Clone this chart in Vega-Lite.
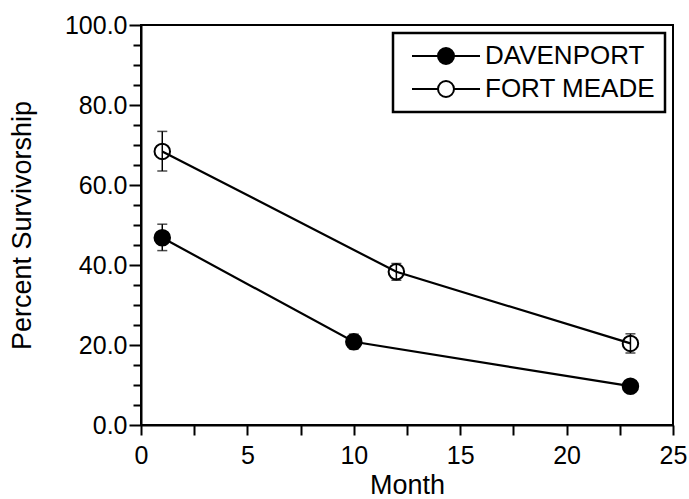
{
  "$schema": "https://vega.github.io/schema/vega-lite/v6.json",
  "width": 532,
  "height": 400,
  "autosize": "none",
  "padding": {"left": 141, "top": 25, "right": 16, "bottom": 74},
  "background": "white",
  "config": {
    "font": "Liberation Sans",
    "view": {"stroke": "black", "strokeWidth": 2},
    "axis": {
      "grid": false,
      "domainColor": "black",
      "domainWidth": 2,
      "tickColor": "black",
      "tickWidth": 2,
      "labelColor": "black",
      "labelFont": "Liberation Sans",
      "labelFontSize": 25,
      "labelFlush": false,
      "labelOverlap": false,
      "titleColor": "black",
      "titleFont": "Liberation Sans",
      "titleFontSize": 27,
      "titleFontWeight": "normal"
    },
    "legend": {
      "strokeColor": "black",
      "strokeWidth": 2.5,
      "fillColor": "white",
      "padding": 10,
      "cornerRadius": 0,
      "labelFont": "Liberation Sans",
      "labelFontSize": 26,
      "labelColor": "black",
      "labelLimit": 0,
      "symbolType": "M -4.25 0 L -1 0 M 1 0 L 4.25 0 M 1 0 A 1 1 0 1 1 -1 0 A 1 1 0 1 1 1 0 Z",
      "symbolSize": 256,
      "symbolStrokeColor": "black",
      "symbolStrokeWidth": 2,
      "symbolOffset": 30,
      "labelOffset": 26,
      "rowPadding": 7
    }
  },
  "data": {
    "values": [
      {"series": "DAVENPORT", "month": 1, "pct": 46.8, "lo": 43.6, "hi": 50.2},
      {"series": "DAVENPORT", "month": 10, "pct": 20.8, "lo": 19.0, "hi": 22.7},
      {"series": "DAVENPORT", "month": 23, "pct": 9.7, "lo": 8.9, "hi": 10.6},
      {"series": "FORT MEADE", "month": 1, "pct": 68.4, "lo": 63.5, "hi": 73.4},
      {"series": "FORT MEADE", "month": 12, "pct": 38.3, "lo": 36.2, "hi": 40.4},
      {"series": "FORT MEADE", "month": 23, "pct": 20.4, "lo": 18.0, "hi": 22.8}
    ]
  },
  "encoding": {
    "x": {
      "field": "month",
      "type": "quantitative",
      "scale": {"domain": [0, 25], "nice": false},
      "axis": {
        "title": "Month",
        "values": [0, 2.5, 5, 7.5, 10, 12.5, 15, 17.5, 20, 22.5, 25],
        "labelExpr": "datum.value % 5 === 0 ? datum.label : ''",
        "tickSize": 10,
        "labelPadding": 8,
        "titlePadding": 4
      }
    },
    "y": {
      "field": "pct",
      "type": "quantitative",
      "scale": {"domain": [0, 100], "nice": false},
      "axis": {
        "title": "Percent Survivorship",
        "values": [0, 5, 10, 15, 20, 25, 30, 35, 40, 45, 50, 55, 60, 65, 70, 75, 80, 85, 90, 95, 100],
        "labelExpr": "datum.value % 20 === 0 ? format(datum.value, '.1f') : ''",
        "tickSize": {"condition": {"test": "datum.value % 20 === 0", "value": 12}, "value": 8},
        "labelPadding": 2,
        "titlePadding": 28
      }
    }
  },
  "layer": [
    {
      "mark": {"type": "line", "color": "black", "strokeWidth": 2.2},
      "encoding": {"detail": {"field": "series"}}
    },
    {
      "mark": {
        "type": "errorbar",
        "ticks": {"size": 10, "thickness": 1.5, "color": "black"},
        "rule": {"strokeWidth": 1.5, "color": "black"}
      },
      "encoding": {
        "y": {"field": "lo", "type": "quantitative"},
        "y2": {"field": "hi"}
      }
    },
    {
      "mark": {"type": "point", "shape": "circle", "size": 240, "filled": true, "stroke": "black", "strokeWidth": 2, "opacity": 1},
      "encoding": {
        "fill": {
          "field": "series",
          "type": "nominal",
          "scale": {"domain": ["DAVENPORT", "FORT MEADE"], "range": ["black", "transparent"]},
          "legend": {"title": null, "orient": "top-right", "offset": 8}
        }
      }
    }
  ]
}
